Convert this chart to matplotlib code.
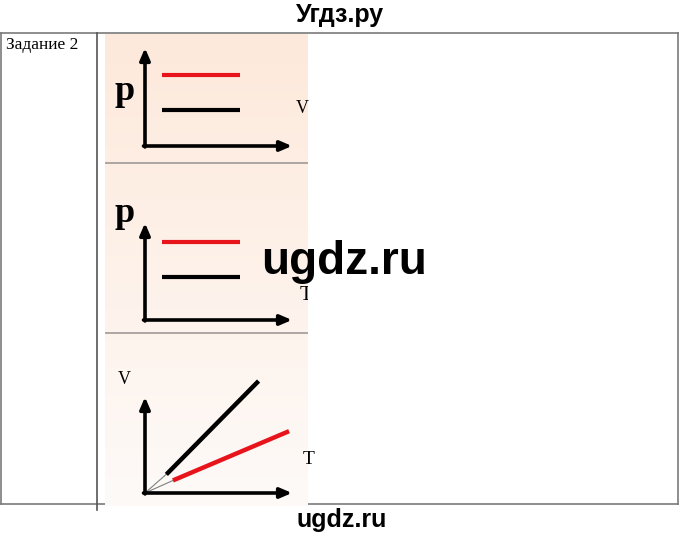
import numpy as np
import matplotlib.pyplot as plt

W, H = 680, 538

# panel data (axis units: origin of the arrow axes = 0, arrow tip = 1)
iso_x = [0.116, 0.646]
p1_red = [0.724, 0.724]
p1_black = [0.367, 0.367]
p2_red = [0.804, 0.804]
p2_black = [0.443, 0.443]
t_black = [0.156, 0.762]
v_black = [0.21, 1.15]
t_red = [0.204, 0.966]
v_red = [0.14, 0.635]


def fig_rect(x0, y0, x1, y1):
    # pixel box (top-left origin) -> figure fraction rect
    return [x0 / W, 1 - y1 / H, (x1 - x0) / W, (y1 - y0) / H]


fig = plt.figure(figsize=(W / 100, H / 100), dpi=100)
fig.patch.set_facecolor("white")

# page layer in pixel coordinates for table lines and texts
page = fig.add_axes([0, 0, 1, 1])
page.set_xlim(0, W)
page.set_ylim(H, 0)
page.axis("off")

# peach gradient column
bg = fig.add_axes(fig_rect(105, 34, 308, 506), zorder=1)
top = np.array([253, 233, 219]) / 255
bot = np.array([254, 250, 248]) / 255
t = np.linspace(0, 1, 200)[:, None]
grad = top + (bot - top) * t
bg.imshow(grad[:, None, :].repeat(2, axis=1), aspect="auto", extent=[0, 1, 1, 0])
bg.set_xlim(0, 1)
bg.set_ylim(1, 0)
bg.axis("off")
for yy in [163, 333]:
    bg.axhline((yy - 34) / 472, color="#a09a96", lw=1.2)
# clipped "T" at the right edge of the middle picture
bg.text((306 - 105) / 203, (295 - 34) / 472, "T", family="Liberation Serif",
        fontsize=15, ha="center", va="center", clip_on=True)

# table frame
kw = dict(color="#7a7a7a", lw=1.2, zorder=5)
page.plot([1, 678], [33, 33], **kw)
page.plot([1, 678], [504, 504], **kw)
page.plot([1, 1], [33, 504], **kw)
page.plot([678, 678], [33, 504], **kw)
page.plot([97, 97], [33, 510], color="#555555", lw=1.2, zorder=5)

page.text(6, 45, "Задание 2", family="Liberation Serif", fontsize=12.5,
          va="center", ha="left")
page.text(340, 15, "Угдз.ру", family="Liberation Sans", weight="bold",
          fontsize=18, ha="center", va="center")
page.text(342, 520, "ugdz.ru", family="Liberation Sans", weight="bold",
          fontsize=18, ha="center", va="center")

# panels
origins = [(145, 146, 48), (145, 320, 223), (145, 493, 397)]
axes = []
for ox, oy, ty in origins:
    ax = fig.add_axes(fig_rect(ox, ty, 292, oy), zorder=3)
    ax.set_xlim(0, 1)
    ax.set_ylim(0, 1)
    ax.axis("off")
    ax.patch.set_alpha(0)
    arrow = dict(arrowstyle="-|>,head_length=0.7,head_width=0.3", color="black",
                 lw=2.6, shrinkA=0, shrinkB=0)
    ax.annotate("", xy=(1, 0), xytext=(-0.01, 0), xycoords="axes fraction",
                arrowprops=arrow)
    ax.annotate("", xy=(0, 1), xytext=(0, -0.01), xycoords="axes fraction",
                arrowprops=arrow)
    axes.append(ax)

ax1, ax2, ax3 = axes

ax1.plot(iso_x, p1_red, color="#e8141c", lw=3, solid_capstyle="butt")
ax1.plot(iso_x, p1_black, color="black", lw=3, solid_capstyle="butt")
ax1.text(-0.14, 0.56, "p", family="Liberation Serif", weight="bold", fontsize=26,
         ha="center", va="center", transform=ax1.transAxes)
ax1.text(1.07, 0.38, "V", family="Liberation Serif", fontsize=13,
         ha="center", va="center", transform=ax1.transAxes)

ax2.plot(iso_x, p2_red, color="#e8141c", lw=3, solid_capstyle="butt")
ax2.plot(iso_x, p2_black, color="black", lw=3, solid_capstyle="butt")
ax2.text(-0.14, 1.1, "p", family="Liberation Serif", weight="bold", fontsize=26,
         ha="center", va="center", transform=ax2.transAxes)

ax3.plot([0, t_black[0]], [0, v_black[0]], color="#808080", lw=0.8, clip_on=False)
ax3.plot([0, t_red[0]], [0, v_red[0]], color="#808080", lw=0.8, clip_on=False)
ax3.plot(t_black, v_black, color="black", lw=3.2, clip_on=False)
ax3.plot(t_red, v_red, color="#e8141c", lw=3.2, clip_on=False)
ax3.text(-0.14, 1.18, "V", family="Liberation Serif", fontsize=13,
         ha="center", va="center", transform=ax3.transAxes)
ax3.text(1.11, 0.35, "T", family="Liberation Serif", fontsize=14,
         ha="center", va="center", transform=ax3.transAxes)

# watermark
fig.text(344 / W, 1 - 262 / H, "ugdz.ru", family="Liberation Sans", weight="bold",
         fontsize=33, ha="center", va="center", zorder=10)

fig.savefig("out.png", dpi=100)
